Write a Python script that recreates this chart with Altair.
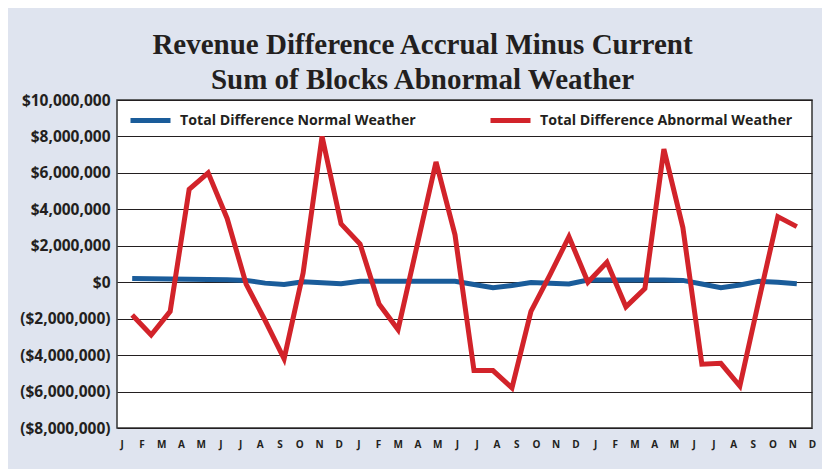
import json
import altair as alt
import pandas as pd

months = ["J", "F", "M", "A", "M", "J", "J", "A", "S", "O", "N", "D",
          "J", "F", "M", "A", "M", "J", "J", "A", "S", "O", "N", "D",
          "J", "F", "M", "A", "M", "J", "J", "A", "S", "O", "N", "D"]

# values in millions of dollars
normal = [0.20, 0.19, 0.18, 0.16, 0.15, 0.14, 0.10, -0.05, -0.12, 0.02, -0.03, -0.08,
          0.05, 0.05, 0.05, 0.05, 0.05, 0.05, -0.12, -0.30, -0.18, -0.02, -0.05, -0.10,
          0.12, 0.12, 0.12, 0.12, 0.12, 0.10, -0.10, -0.30, -0.15, 0.05, 0.00, -0.08]

abnormal = [-1.8, -2.9, -1.6, 5.1, 6.0, 3.5, -0.1, -2.1, -4.2, 0.5, 8.0, 3.2,
            2.1, -1.2, -2.6, 2.0, 6.6, 2.6, -4.85, -4.85, -5.8, -1.6, 0.4, 2.5,
            0.0, 1.1, -1.35, -0.35, 7.3, 3.0, -4.5, -4.45, -5.7, -1.0, 3.6, 3.05]

series_normal = "Total Difference Normal Weather"
series_abnormal = "Total Difference Abnormal Weather"
y_ticks = [-8, -6, -4, -2, 0, 2, 4, 6, 8, 10]

idx = list(range(len(months)))

df = pd.DataFrame({
    "idx": idx * 2,
    "month": months * 2,
    "value": normal + abnormal,
    "series": [series_normal] * len(normal) + [series_abnormal] * len(abnormal),
})
df_labels = pd.DataFrame({"idx": idx, "month": months})

TXT = "#231f20"
SANS = "Open Sans"

x_line = alt.X("idx:O", scale=alt.Scale(type="point", padding=0.8), axis=None)

y_enc = alt.Y(
    "value:Q",
    scale=alt.Scale(domain=[-8, 10], nice=False, zero=False),
    axis=alt.Axis(
        title=None,
        values=y_ticks,
        labelExpr="datum.value < 0 ? '($' + format(-datum.value * 1000000, ',') + ')' : '$' + format(datum.value * 1000000, ',')",
        ticks=False, domain=False, grid=True,
        gridColor=TXT, gridWidth=1.2,
        labelFont=SANS, labelFontWeight="bold", labelFontSize=15.5,
        labelColor=TXT, labelPadding=7,
    ),
)


def line_layer(name, color, lx):
    return alt.Chart(df).transform_filter(
        alt.datum.series == name
    ).mark_line(strokeWidth=5).encode(
        x=x_line,
        y=y_enc,
        color=alt.Color(
            "series:N",
            scale=alt.Scale(domain=[name], range=[color]),
            legend=alt.Legend(
                title=None, orient="none", legendX=lx, legendY=-2,
                symbolType="stroke", symbolSize=1600, symbolStrokeWidth=5,
                labelFont=SANS, labelFontSize=14.2, labelFontWeight="bold",
                labelColor=TXT, labelOffset=7, labelLimit=400, padding=0,
            ),
        ),
    )


# month letters row along the bottom (its own scale, as in the original layout)
label_layer = alt.Chart(df_labels).mark_tick(opacity=0).encode(
    x=alt.X(
        "idx:Q",
        scale=alt.Scale(domain=[-0.24, 35.0], nice=False, zero=False),
        axis=alt.Axis(
            title=None,
            values=idx,
            labelExpr=json.dumps(months) + "[datum.value]",
            labelAngle=0, ticks=False, domain=False, grid=False,
            labelFont=SANS, labelFontWeight="bold", labelFontSize=10,
            labelColor=TXT, labelPadding=11, labelFlush=False,
            labelOverlap=False, labelBound=False,
        ),
    ),
    y=alt.value(0),
)

chart = alt.layer(
    line_layer(series_normal, "#1a5c9a", 11),
    line_layer(series_abnormal, "#d2232a", 371),
    label_layer,
).resolve_scale(color="independent", x="independent").properties(
    width=695,
    height=328,
    autosize=alt.AutoSizeParams(type="none"),
    padding={"left": 109, "top": 92, "right": 10, "bottom": 41},
    title=alt.TitleParams(
        text=["Revenue Difference Accrual Minus Current", "Sum of Blocks Abnormal Weather"],
        font="Liberation Serif", fontSize=29, fontWeight="bold", color=TXT,
        anchor="middle", dx=-42, offset=-2, lineHeight=35,
    ),
).configure(
    background="#dfe4ef",
).configure_view(
    fill="white", stroke="#333333", strokeWidth=1.5,
)

chart.save("out.html", embed_options={"renderer": "svg", "actions": False})
